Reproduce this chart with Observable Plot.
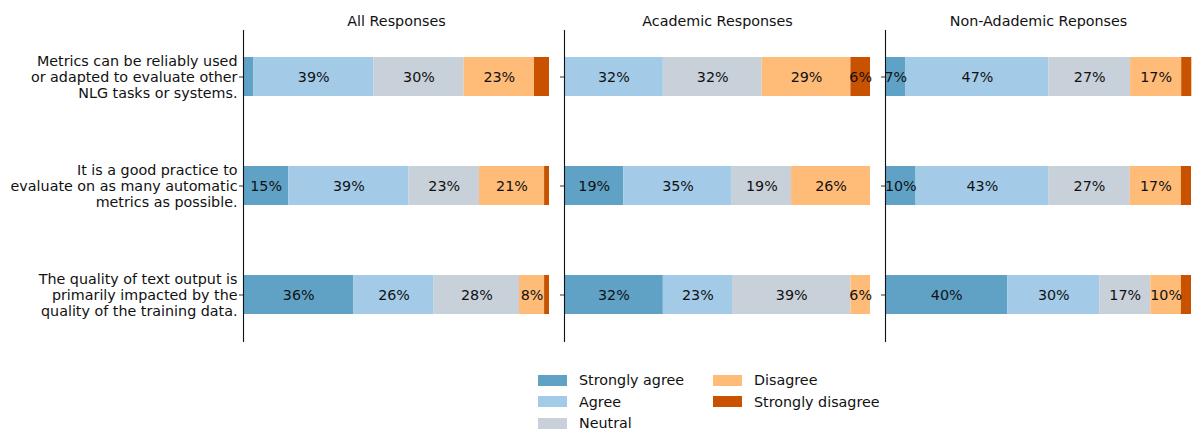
<!DOCTYPE html>
<html>
<head>
<meta charset="utf-8">
<script src="https://cdn.jsdelivr.net/npm/d3@7"></script>
<script src="https://cdn.jsdelivr.net/npm/@observablehq/plot@0.6"></script>
<style>
  html, body { margin: 0; padding: 0; background: #fff; }
  #wrap { position: relative; width: 1195px; height: 430px; font-family: "DejaVu Sans", sans-serif; }
  #legend { position: absolute; left: 0; top: 0; width: 1195px; height: 430px; pointer-events: none; }
  .item { position: absolute; display: flex; align-items: center; font-size: 14.3px; color: #111; white-space: nowrap; }
  .sw { width: 29px; height: 11px; margin-right: 12px; }
</style>
</head>
<body>
<div id="wrap"><div id="chart"></div><div id="legend"></div></div>
<script>
const groups = ["All Responses", "Academic Responses", "Non-Adademic Reponses"];
const questions = [
  "Metrics can be reliably used\nor adapted to evaluate other\nNLG tasks or systems.",
  "It is a good practice to\nevaluate on as many automatic\nmetrics as possible.",
  "The quality of text output is\nprimarily impacted by the\nquality of the training data."
];
const categories = ["Strongly agree", "Agree", "Neutral", "Disagree", "Strongly disagree"];
const colors = ["#5fa2c6", "#a3cbe8", "#c8d0d9", "#ffbb78", "#c85200"];

// percentages per question (rows) and category (columns)
const allResponses = [
  [3.3, 39.3, 29.5, 23.0, 4.9],
  [14.8, 39.3, 23.0, 21.3, 1.6],
  [36.1, 26.2, 27.9, 8.2, 1.6]
];
const academicResponses = [
  [0.0, 32.3, 32.3, 29.0, 6.4],
  [19.4, 35.4, 19.4, 25.8, 0.0],
  [32.3, 22.6, 38.7, 6.4, 0.0]
];
const nonAcademicResponses = [
  [6.7, 46.7, 26.7, 16.7, 3.3],
  [10.0, 43.3, 26.7, 16.7, 3.3],
  [40.0, 30.0, 16.7, 10.0, 3.3]
];

const series = [allResponses, academicResponses, nonAcademicResponses];
const rows = [];
series.forEach((s, gi) => s.forEach((vals, qi) => vals.forEach((v, ci) => {
  rows.push({group: groups[gi], question: questions[qi], category: categories[ci], value: v});
})));

const font = "DejaVu Sans, sans-serif";
const fs = 14.3;
const chart = Plot.plot({
  width: 1195,
  height: 356,
  marginTop: 30,
  marginBottom: 14,
  marginLeft: 243,
  marginRight: 4,
  style: {fontFamily: font, fontSize: fs + "px", color: "#111", background: "#fff"},
  fx: {domain: groups, padding: 15 / 321, label: null},
  x: {domain: [0, 100], axis: null},
  y: {domain: questions, paddingInner: 0.642, paddingOuter: 0.252, label: null},
  color: {domain: categories, range: colors},
  marks: [
    Plot.axisFx({anchor: "top", label: null, tickSize: 0, tickPadding: 5, fontSize: fs}),
    Plot.barX(rows, Plot.stackX({x: "value", y: "question", fx: "group", fill: "category", order: categories})),
    Plot.text(rows, Plot.stackX({
      x: "value", y: "question", fx: "group", z: "category", order: categories,
      text: d => d.value >= 5.5 ? Math.round(d.value) + "%" : "",
      fill: "#111", fontSize: fs
    })),
    Plot.ruleX([0], {stroke: "#111", strokeWidth: 1.1}),
    Plot.axisY({facetAnchor: null, anchor: "left", tickSize: 4, tickFormat: () => "", stroke: "#333"}),
    Plot.axisY({anchor: "left", tickSize: 0, tickPadding: 6, fontSize: fs, lineHeight: 1.12, fill: "#111", textAnchor: "end"})
  ]
});
document.getElementById("chart").appendChild(chart);

// legend
const legend = document.getElementById("legend");
const legendPos = [
  [538, 380], [538, 401.5], [538, 423],
  [713, 380], [713, 401.5]
];
categories.forEach((c, i) => {
  const el = document.createElement("div");
  el.className = "item";
  el.style.left = legendPos[i][0] + "px";
  el.style.top = (legendPos[i][1] - 9) + "px";
  el.style.height = "18px";
  const sw = document.createElement("div");
  sw.className = "sw";
  sw.style.background = colors[i];
  const t = document.createElement("span");
  t.textContent = c;
  el.appendChild(sw);
  el.appendChild(t);
  legend.appendChild(el);
});
</script>
</body>
</html>
